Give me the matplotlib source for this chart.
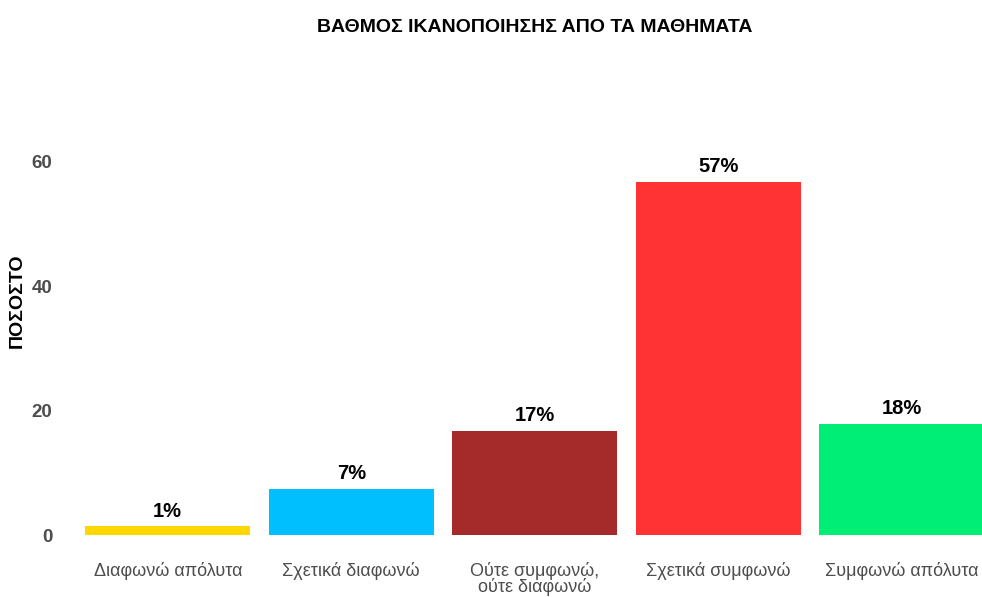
import matplotlib
matplotlib.use("Agg")
import matplotlib.pyplot as plt

categories = ["Διαφωνώ απόλυτα", "Σχετικά διαφωνώ", "Ούτε συμφωνώ,\nούτε διαφωνώ",
              "Σχετικά συμφωνώ", "Συμφωνώ απόλυτα"]
values = [1.4, 7.4, 16.8, 56.8, 17.9]
value_labels = ["1%", "7%", "17%", "57%", "18%"]
colors = ["#FFD700", "#00BFFF", "#A52A2A", "#FF3333", "#00EE76"]
yticks = [0, 20, 40, 60]
title = "ΒΑΘΜΟΣ ΙΚΑΝΟΠΟΙΗΣΗΣ ΑΠΟ ΤΑ ΜΑΘΗΜΑΤΑ"
ylabel = "ΠΟΣΟΣΤΟ"

plt.rcParams['font.family'] = ['Liberation Sans', 'DejaVu Sans']

W, H = 982, 597
fig = plt.figure(figsize=(W / 100, H / 100), dpi=100)
fig.patch.set_facecolor("white")

# axes placement in pixels
left_px, right_px = 76, 982
bottom_px = 535
ymax = 66
px_per_unit = 6.217
top_px = bottom_px - ymax * px_per_unit
ax = fig.add_axes([left_px / W, 1 - bottom_px / H, (right_px - left_px) / W,
                   (bottom_px - top_px) / H])

x = list(range(len(categories)))
bars = ax.bar(x, values, width=0.9, color=colors)

spacing = 183.5
ax.set_xlim(-0.5, -0.5 + (right_px - left_px) / spacing)
ax.set_ylim(0, ymax)

for xi, v, lab in zip(x, values, value_labels):
    ax.annotate(lab, (xi, v), xytext=(0, 4), textcoords="offset points",
                ha="center", va="bottom", fontsize=14.5, fontweight="bold", color="black")

for s in ax.spines.values():
    s.set_visible(False)
ax.set_xticks(x)
ax.set_xticklabels(categories, fontsize=13, color="#4D4D4D", linespacing=0.88)
ax.set_yticks(yticks)
ax.set_yticklabels([str(t) for t in yticks], fontsize=13.5, color="#4D4D4D",
                   fontweight="bold")
ax.tick_params(axis="x", length=0, pad=19.5)
ax.tick_params(axis="y", length=0, pad=17)
ax.grid(False)

fig.text(17 / W, 1 - 301 / H, ylabel, rotation=90, ha="center", va="center",
         fontsize=14, fontweight="bold", color="black")

fig.text(535 / W, 1 - 27 / H, title, ha="center", va="center",
         fontsize=14, fontweight="bold", color="black")

fig.savefig("out.png", dpi=100, facecolor="white")
